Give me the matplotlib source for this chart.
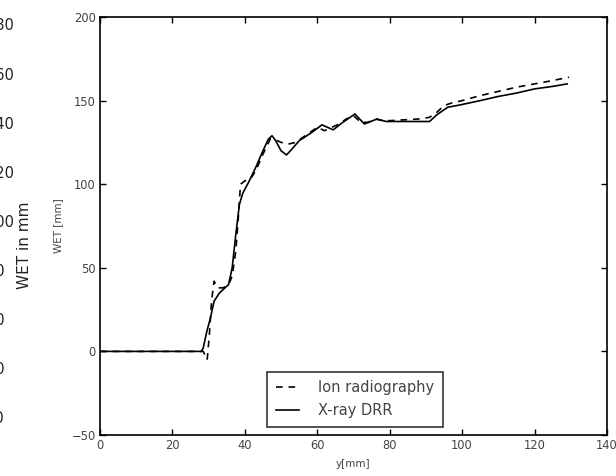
import matplotlib
matplotlib.use("Agg")
import matplotlib.pyplot as plt

# X-ray DRR (solid)
drr_x = [0, 28.0, 28.5, 29.5, 30.5, 31.5, 33.0, 34.5, 35.5, 36.5, 37.5, 38.5, 39.5, 41.0,
         43.0, 45.0, 46.5, 47.5, 48.5, 50.0, 51.5, 53.0, 55.0, 58.5, 61.3, 64.4, 66.8,
         70.4, 73.0, 76.5, 79.0, 82.0, 86.0, 91.0, 93.0, 96.0, 99.4, 105, 110, 115, 120,
         125, 129]
drr_y = [0, 0, 2, 12, 20, 30, 35, 38, 40, 50, 70, 88, 95, 101,
         110, 120, 127, 129, 126, 120, 117.5, 121, 126, 131, 135.5, 132.5, 136.6,
         142, 136, 139, 137.5, 137.5, 137.5, 137.5, 141.5, 146, 147.4, 150, 152.5, 154.5, 157,
         158.5, 160]

# Ion radiography (dashed)
ion_x = [0, 28.5, 29.6, 30.2, 30.8, 31.5, 32.5, 34.0, 35.5, 36.5, 37.5, 38.2, 38.8, 40.0,
         41.5, 43.0, 45.0, 47.0, 48.0, 50.0, 52.0, 54.0, 56.0, 58.0, 60.0, 62.0, 64.0, 66.0,
         68.0, 70.0, 72.0, 74.0, 76.0, 78.0, 80.0, 84.0, 88.0, 91.0, 93.0, 95.0, 97.0, 100,
         105, 110, 115, 120, 125, 129.5]
ion_y = [0, 0, -5, 10, 30, 42, 38, 38, 40, 45, 60, 80, 100, 102,
         103, 108, 118, 127, 127, 125, 124, 125, 128, 131, 134, 132, 134, 136,
         139, 141, 137, 137, 139, 138, 138, 138.5, 139, 140, 143, 147, 148.5, 150,
         153, 155.5, 158, 160, 162, 164]

x_ticks = [0, 20, 40, 60, 80, 100, 120, 140]
y_ticks = [-50, 0, 50, 100, 150, 200]

# stray labels of a neighbouring chart at the left edge
side_labels = ["180", "160", "140", "120", "100", "80", "60", "40", "20"]

W, H = 616, 476
fig = plt.figure(figsize=(W / 100, H / 100), dpi=100)
fig.patch.set_facecolor("white")

# left strip text
top_px, step_px = 26, 49.1
for i, lab in enumerate(side_labels):
    ypx = top_px + i * step_px
    fig.text(-14 / W, 1 - ypx / H, lab, ha="left", va="center", fontsize=10.5,
             color="#222222", family="DejaVu Sans")
fig.text(25 / W, 1 - 245 / H, "WET in mm", rotation=90, ha="center", va="center",
         fontsize=11, color="#222222", family="DejaVu Sans")

ax = fig.add_axes([100 / W, (H - 435) / H, 507 / W, 418 / H])
ax.plot(ion_x, ion_y, color="black", lw=1.2, ls=(0, (4.0, 3.5)), label="Ion radiography")
ax.plot(drr_x, drr_y, color="black", lw=1.2, ls="-", label="X-ray DRR")

ax.set_xlim(0, 140)
ax.set_ylim(-50, 200)
ax.set_xticks(x_ticks)
ax.set_yticks(y_ticks)
ax.tick_params(direction="in", length=4, width=1, top=True, right=True,
               labelsize=8.3, labelcolor="#444444", pad=3)
for s in ax.spines.values():
    s.set_linewidth(1.2)
    s.set_color("black")

ax.set_xlabel("y[mm]", fontsize=7.5, color="#444444", labelpad=5)
ax.set_ylabel("WET [mm]", fontsize=7.5, color="#444444", labelpad=6)

leg = ax.legend(loc="lower center", bbox_to_anchor=(0.503, 0.019), borderaxespad=0,
                fontsize=10.5, frameon=True, fancybox=False, handlelength=1.6,
                borderpad=0.6, labelspacing=0.55, handletextpad=1.3)
leg.get_frame().set_edgecolor("black")
leg.get_frame().set_linewidth(1.2)
for t in leg.get_texts():
    t.set_color("#444444")

fig.savefig("out.png", dpi=100)
